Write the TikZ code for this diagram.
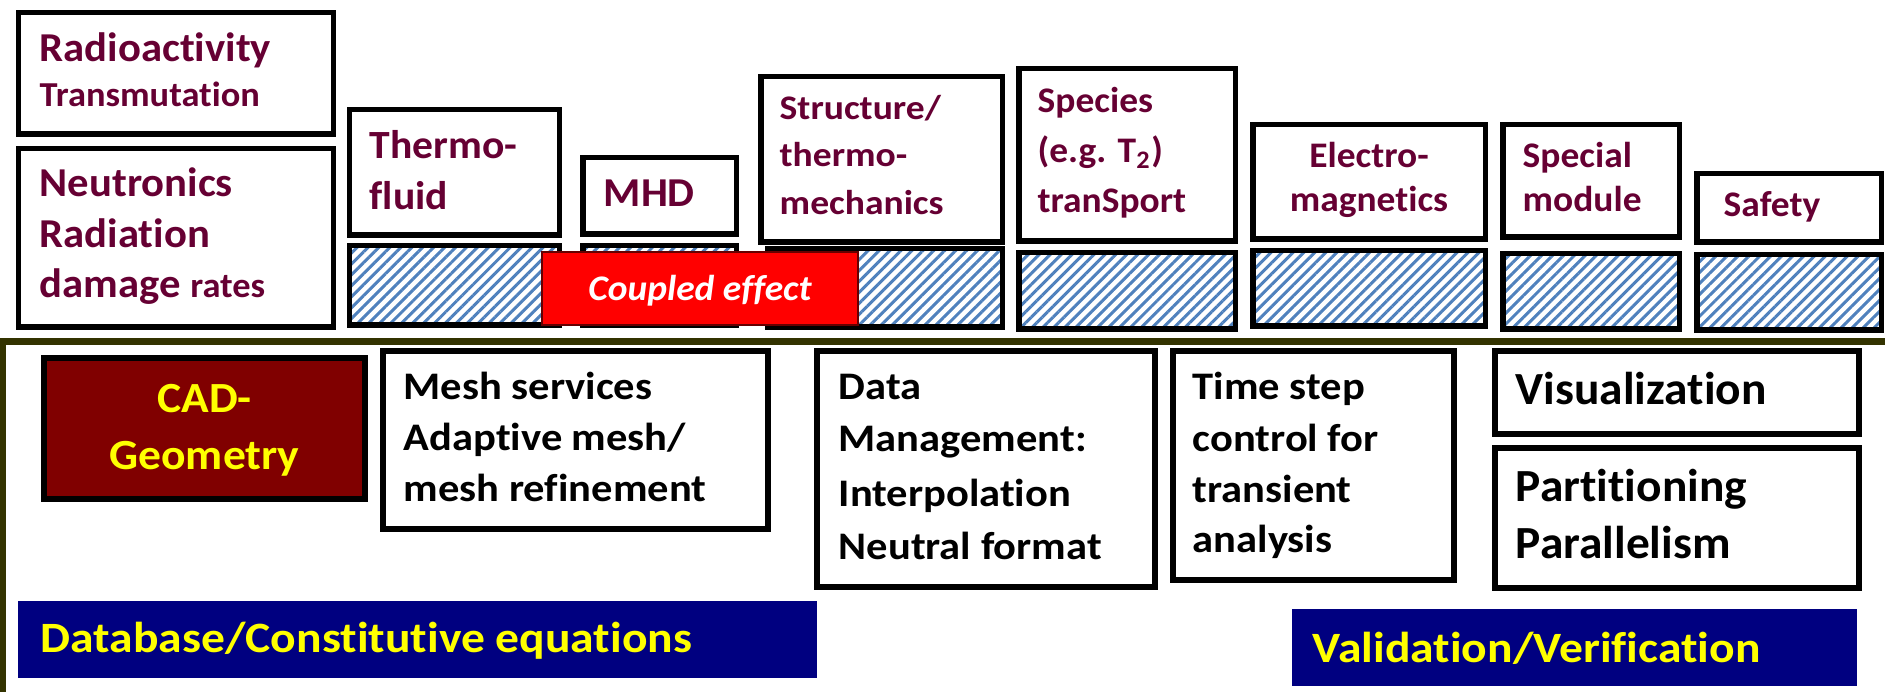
\documentclass[tikz,border=0pt]{standalone}
\usepackage{fontspec}
\setmainfont{Carlito}[Ligatures=NoCommon]
\newfontfamily\fw{Carlito}[Ligatures=NoCommon,FakeStretch=1.04]
\newfontfamily\fk{Carlito}[Ligatures=NoCommon,FakeStretch=1.09]
\newfontfamily\fv{Carlito}[Ligatures=NoCommon,FakeStretch=1.03]
\newfontfamily\fc{Carlito}[Ligatures=NoCommon,FakeStretch=1.06]
\newfontfamily\fy{Carlito}[Ligatures=NoCommon,FakeStretch=1.10]
\usetikzlibrary{fit,patterns.meta}
\definecolor{wine}{RGB}{102,0,51}
\definecolor{cadred}{RGB}{128,0,0}
\definecolor{navyb}{RGB}{0,0,128}
\definecolor{olivedark}{RGB}{51,51,0}
\definecolor{hatchblue}{RGB}{79,129,189}
\definecolor{yel}{RGB}{255,255,0}
\begin{document}
\begin{tikzpicture}[x=0.01cm,y=-0.01cm,
  box/.style={draw=black,line width=1.56pt,inner sep=0pt,fill=white},
  hbox/.style={draw=black,line width=1.56pt,inner sep=0pt,
     pattern={Lines[angle=45,distance=2.2pt,line width=0.85pt]},pattern color=hatchblue},
  redbox/.style={draw=black!60!red,line width=0.4pt,inner sep=0pt,fill=red},
  cadbox/.style={draw=black,line width=1.7pt,inner sep=0pt,fill=cadred},
  bluebox/.style={inner sep=0pt,fill=navyb},
  txt/.style={inner sep=0pt,anchor=base west},
  ctxt/.style={inner sep=0pt,anchor=base},
  wA/.style={text=wine,font=\fw\bfseries\fontsize{11.67pt}{14pt}\selectfont},
  wB/.style={text=wine,font=\fw\bfseries\fontsize{9.96pt}{12pt}\selectfont},
  wC/.style={text=wine,font=\fw\bfseries\fontsize{11.38pt}{14pt}\selectfont},
  wD/.style={text=wine,font=\fk\bfseries\fontsize{9.8pt}{12pt}\selectfont},
  wE/.style={text=wine,font=\fw\bfseries\fontsize{10.24pt}{12pt}\selectfont},
  kA/.style={text=black,font=\fk\bfseries\fontsize{11.1pt}{13pt}\selectfont},
  kB/.style={text=black,font=\fv\bfseries\fontsize{13.09pt}{15pt}\selectfont},
  yA/.style={text=yel,font=\fc\bfseries\fontsize{12.23pt}{15pt}\selectfont},
  yB/.style={text=yel,font=\fy\bfseries\fontsize{12.3pt}{15pt}\selectfont},
]
\fill[white] (0,0) rectangle (1885,692);
\useasboundingbox (0,0) rectangle (1885,692);

% ---------- top row: physics boxes ----------
\node[box,fit={(18.75,12.75) (333.25,134.25)}] (radio) {};
\node[box,fit={(18.75,148.75) (333.25,327.25)}] (neut) {};
\node[box,fit={(349.75,109.75) (559.25,235.25)}] (thermo) {};
\node[hbox,fit={(349.75,245.75) (559.25,325.25)}] (thermoH) {};
\node[box,fit={(582.75,157.75) (736.25,234.25)}] (mhd) {};
\node[hbox,fit={(582.75,245.75) (736.25,325.25)}] (mhdH) {};
\node[box,fit={(760.75,76.75) (1002.25,242.25)}] (struct) {};
\node[hbox,fit={(767.75,248.75) (1002.25,327.25)}] (structH) {};
\node[box,fit={(1018.75,68.75) (1235.25,241.25)}] (species) {};
\node[hbox,fit={(1018.75,252.75) (1235.25,329.25)}] (speciesH) {};
\node[box,fit={(1252.75,124.75) (1485.25,239.25)}] (electro) {};
\node[hbox,fit={(1252.75,250.75) (1485.25,326.25)}] (electroH) {};
\node[box,fit={(1502.75,124.75) (1679.25,237.25)}] (special) {};
\node[hbox,fit={(1502.75,253.75) (1679.25,329.25)}] (specialH) {};
\node[box,fit={(1696.75,173.75) (1881.25,242.25)}] (safety) {};
\node[hbox,fit={(1696.75,254.75) (1881.25,330.25)}] (safetyH) {};
\node[redbox,fit={(542,252) (858,325)}] (coupled) {};

\node[txt,wA] (radio1) at (39,62) {Radioactivity};
\node[txt,wB] (radio2) at (39,107) {Transmutation};
\node[txt,wA] (neut1) at (39,197) {Neutronics};
\node[txt,wA] (neut2) at (39,248) {Radiation};
\node[txt,wA] (neut3) at (39,298) {damage {\fontsize{9.96pt}{12pt}\selectfont rates}};
\node[txt,wC] (thermo1) at (369,159) {Thermo-};
\node[txt,wC] (thermo2) at (369,210) {fluid};
\node[txt,wA] (mhd1) at (603,207) {MHD};
\node[txt,wD] (struct1) at (779,120) {Structure/};
\node[txt,wD] (struct2) at (779,167) {thermo-};
\node[txt,wD] (struct3) at (779,215) {mechanics};
\node[txt,wE] (species1) at (1037,113) {Species};
\node[txt,wE] (species2) at (1037,163) {(e.g. T\textsubscript{2})};
\node[txt,wE] (species3) at (1037,213) {tranSport};
\node[ctxt,wE] (electro1) at (1369,168) {Electro-};
\node[ctxt,wE] (electro2) at (1369,212) {magnetics};
\node[txt,wE] (special1) at (1522,168) {Special};
\node[txt,wE] (special2) at (1522,212) {module};
\node[txt,wE] (safety1) at (1723,217) {Safety};
\node[ctxt,text=white,font=\fw\bfseries\itshape\fontsize{10.24pt}{12pt}\selectfont] (coupledT) at (700,301) {Coupled effect};

% ---------- frame ----------
\draw[olivedark,line width=1.75pt] (2.5,692) -- (2.5,341.5) -- (1885,341.5);

% ---------- bottom row: services ----------
\node[cadbox,fit={(44,358) (365,499)}] (cad) {};
\node[box,fit={(383,351) (768,529)}] (mesh) {};
\node[box,fit={(817,351) (1155,587)}] (data) {};
\node[box,fit={(1173,351) (1454,580)}] (time) {};
\node[box,fit={(1495,351) (1859,434)}] (vis) {};
\node[box,fit={(1495,448) (1859,588)}] (part) {};
\node[bluebox,fit={(18,601) (817,678)}] (db) {};
\node[bluebox,fit={(1292,609) (1857,686)}] (val) {};

\node[ctxt,yA] (cad1) at (204.5,413) {CAD-};
\node[ctxt,yA] (cad2) at (204.5,470) {Geometry};
\node[txt,kA] (mesh1) at (403,400) {Mesh services};
\node[txt,kA] (mesh2) at (403,451) {Adaptive mesh/};
\node[txt,kA] (mesh3) at (403,502) {mesh refinement};
\node[txt,kA] (data1) at (838,400) {Data};
\node[txt,kA] (data2) at (838,452) {Management:};
\node[txt,kA] (data3) at (838,507) {Interpolation};
\node[txt,kA] (data4) at (838,560) {Neutral format};
\node[txt,kA] (time1) at (1192,400) {Time step};
\node[txt,kA] (time2) at (1192,452) {control for};
\node[txt,kA] (time3) at (1192,503) {transient};
\node[txt,kA] (time4) at (1192,553) {analysis};
\node[txt,kB] (vis1) at (1515,405) {Visualization};
\node[txt,kB] (part1) at (1515,502) {Partitioning};
\node[txt,kB] (part2) at (1515,559) {Parallelism};
\node[txt,yB] (db1) at (40,653) {Database/Constitutive equations};
\node[txt,yB] (val1) at (1312,663) {Validation/Verification};
\end{tikzpicture}
\end{document}
